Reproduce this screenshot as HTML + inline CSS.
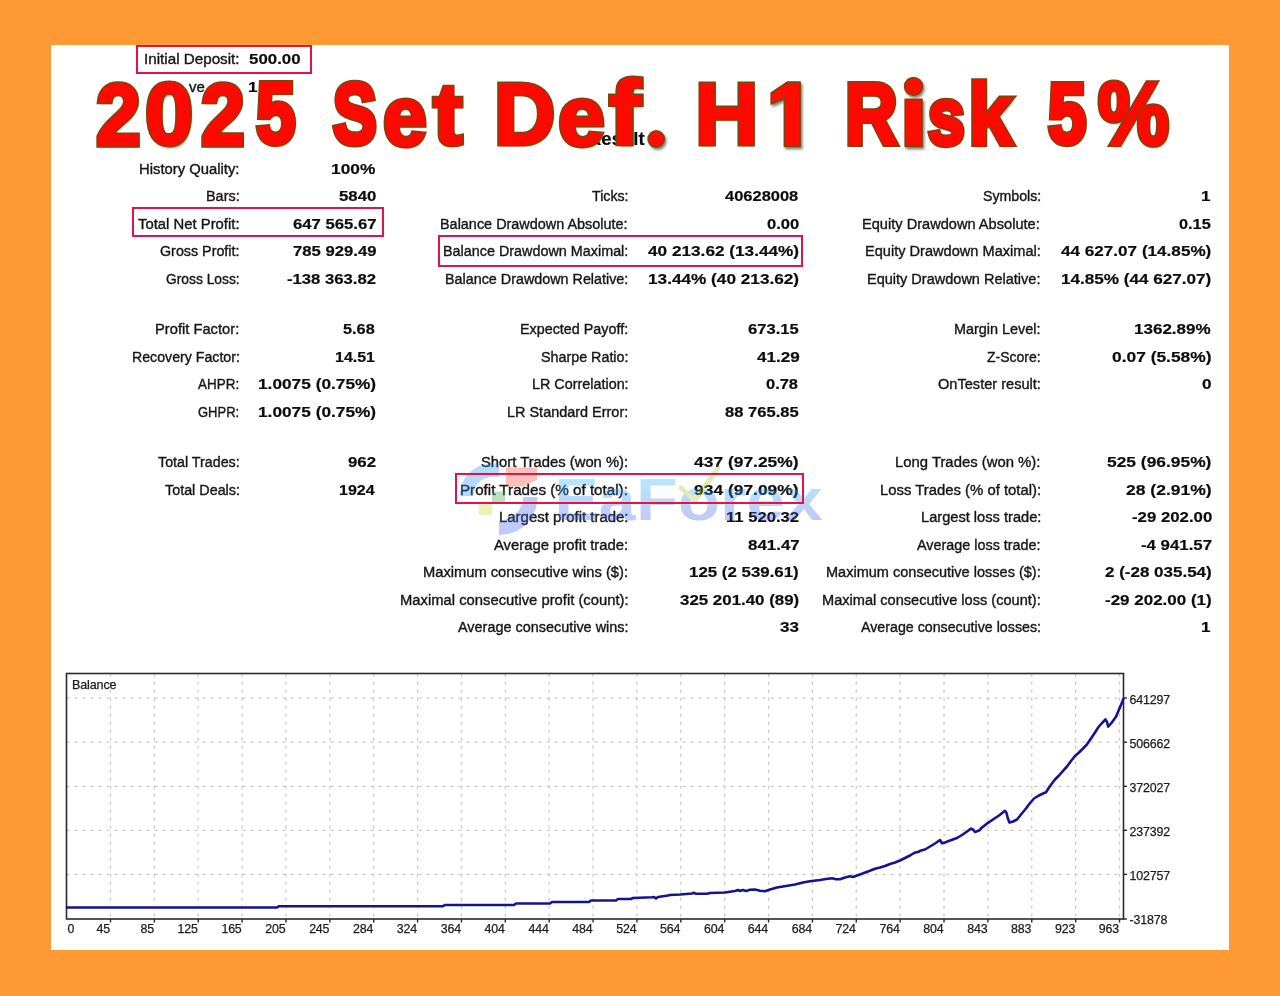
<!DOCTYPE html>
<html><head><meta charset="utf-8"><title>Report</title>
<style>
html,body{margin:0;padding:0}
body{width:1280px;height:996px;background:#ff9933;position:relative;overflow:hidden;font-family:"Liberation Sans",sans-serif}
#panel{position:absolute;left:51px;top:45px;width:1178px;height:905px;background:#fff}
#soft{position:absolute;left:0;top:0;width:1280px;height:996px;filter:blur(0.35px)}
.t{position:absolute;white-space:pre;font-size:15.3px;line-height:20px;color:#141414;transform-origin:0 0;-webkit-text-stroke:0.4px #1c1c1c}
.v{font-weight:bold;color:#0c0c0c;-webkit-text-stroke:0.2px #111}
.rb{position:absolute;box-sizing:border-box;border:2px solid #e4124a}
.ax{position:absolute;white-space:pre;font-size:12.4px;line-height:16px;color:#1a1a1a;letter-spacing:-0.15px;-webkit-text-stroke:0.25px #222}
.g{stroke:#cacaca;stroke-width:1.25;stroke-dasharray:3.2 4.8}
.tk{stroke:#2a2a2a;stroke-width:1.4}
.tw{position:absolute;white-space:pre;font-weight:bold;transform-origin:0 0;font-size:88.0px;line-height:106px}
.ta{color:#7a4608;-webkit-text-stroke:4.8px #7a4608;text-shadow:1.6px 2.2px 2.6px rgba(50,50,30,.6)}
.tb{color:#ff0800;-webkit-text-stroke:1.7px #ff0800}
.dt{position:absolute;border-radius:50%;display:block}
.da{background:#8c4c08;box-shadow:1.5px 2px 3px rgba(70,70,50,.45)}
.db{background:#ff0800}
</style></head><body>
<div id="panel"></div>
<div id="soft">
<!--STATS-->
<span class="t l" style="left:144.01px;top:48.95px;transform:scaleX(0.9944)">Initial Deposit:</span>
<span class="t v" style="left:249.00px;top:48.95px;transform:scaleX(1.1020)">500.00</span>
<span class="t l" style="left:188.90px;top:76.60px;transform:scaleX(0.9777)">ve</span>
<span class="t v" style="left:248.12px;top:76.60px;transform:scaleX(1.1200)">1</span>
<span class="t l" style="left:139.03px;top:158.95px;transform:scaleX(0.9689)">History Quality:</span>
<span class="t v" style="left:330.75px;top:158.95px;transform:scaleX(1.1323)">100%</span>
<span class="t l" style="left:205.81px;top:186.45px;transform:scaleX(0.9431)">Bars:</span>
<span class="t v" style="left:338.75px;top:186.45px;transform:scaleX(1.0963)">5840</span>
<span class="t l" style="left:138.00px;top:213.95px;transform:scaleX(0.9708)">Total Net Profit:</span>
<span class="t v" style="left:292.50px;top:213.95px;transform:scaleX(1.0914)">647 565.67</span>
<span class="t l" style="left:160.00px;top:241.45px;transform:scaleX(0.9349)">Gross Profit:</span>
<span class="t v" style="left:292.50px;top:241.45px;transform:scaleX(1.0914)">785 929.49</span>
<span class="t l" style="left:165.75px;top:268.95px;transform:scaleX(0.9028)">Gross Loss:</span>
<span class="t v" style="left:287.00px;top:268.95px;transform:scaleX(1.0906)">-138 363.82</span>
<span class="t l" style="left:155.29px;top:319.45px;transform:scaleX(0.9619)">Profit Factor:</span>
<span class="t v" style="left:343.25px;top:319.45px;transform:scaleX(1.0656)">5.68</span>
<span class="t l" style="left:131.57px;top:346.95px;transform:scaleX(0.9264)">Recovery Factor:</span>
<span class="t v" style="left:335.00px;top:346.95px;transform:scaleX(1.0446)">14.51</span>
<span class="t l" style="left:198.25px;top:374.45px;transform:scaleX(0.8802)">AHPR:</span>
<span class="t v" style="left:257.50px;top:374.45px;transform:scaleX(1.1291)">1.0075 (0.75%)</span>
<span class="t l" style="left:198.25px;top:401.95px;transform:scaleX(0.8486)">GHPR:</span>
<span class="t v" style="left:257.50px;top:401.95px;transform:scaleX(1.1291)">1.0075 (0.75%)</span>
<span class="t l" style="left:157.50px;top:452.45px;transform:scaleX(0.9330)">Total Trades:</span>
<span class="t v" style="left:348.00px;top:452.45px;transform:scaleX(1.0993)">962</span>
<span class="t l" style="left:164.50px;top:479.95px;transform:scaleX(0.9381)">Total Deals:</span>
<span class="t v" style="left:339.25px;top:479.95px;transform:scaleX(1.0500)">1924</span>
<span class="t l" style="left:591.80px;top:186.45px;transform:scaleX(0.9286)">Ticks:</span>
<span class="t v" style="left:725.00px;top:186.45px;transform:scaleX(1.0766)">40628008</span>
<span class="t l" style="left:439.96px;top:213.95px;transform:scaleX(0.9429)">Balance Drawdown Absolute:</span>
<span class="t v" style="left:767.10px;top:213.95px;transform:scaleX(1.0832)">0.00</span>
<span class="t l" style="left:443.06px;top:241.45px;transform:scaleX(0.9395)">Balance Drawdown Maximal:</span>
<span class="t v" style="left:647.80px;top:241.45px;transform:scaleX(1.1245)">40 213.62 (13.44%)</span>
<span class="t l" style="left:445.06px;top:268.95px;transform:scaleX(0.9374)">Balance Drawdown Relative:</span>
<span class="t v" style="left:647.80px;top:268.95px;transform:scaleX(1.1245)">13.44% (40 213.62)</span>
<span class="t l" style="left:520.26px;top:319.45px;transform:scaleX(0.9371)">Expected Payoff:</span>
<span class="t v" style="left:747.60px;top:319.45px;transform:scaleX(1.0829)">673.15</span>
<span class="t l" style="left:540.90px;top:346.95px;transform:scaleX(0.9351)">Sharpe Ratio:</span>
<span class="t v" style="left:756.50px;top:346.95px;transform:scaleX(1.1199)">41.29</span>
<span class="t l" style="left:531.76px;top:374.45px;transform:scaleX(0.9391)">LR Correlation:</span>
<span class="t v" style="left:766.30px;top:374.45px;transform:scaleX(1.0739)">0.78</span>
<span class="t l" style="left:507.16px;top:401.95px;transform:scaleX(0.9443)">LR Standard Error:</span>
<span class="t v" style="left:724.60px;top:401.95px;transform:scaleX(1.0825)">88 765.85</span>
<span class="t l" style="left:481.00px;top:452.45px;transform:scaleX(0.9669)">Short Trades (won %):</span>
<span class="t v" style="left:694.30px;top:452.45px;transform:scaleX(1.1390)">437 (97.25%)</span>
<span class="t l" style="left:460.31px;top:479.95px;transform:scaleX(0.9922)">Profit Trades (% of total):</span>
<span class="t v" style="left:694.30px;top:479.95px;transform:scaleX(1.1390)">934 (97.09%)</span>
<span class="t l" style="left:498.92px;top:507.45px;transform:scaleX(0.9763)">Largest profit trade:</span>
<span class="t v" style="left:726.30px;top:507.45px;transform:scaleX(1.0870)">11 520.32</span>
<span class="t l" style="left:494.30px;top:534.95px;transform:scaleX(0.9696)">Average profit trade:</span>
<span class="t v" style="left:747.60px;top:534.95px;transform:scaleX(1.1063)">841.47</span>
<span class="t l" style="left:423.44px;top:562.45px;transform:scaleX(0.9606)">Maximum consecutive wins ($):</span>
<span class="t v" style="left:689.20px;top:562.45px;transform:scaleX(1.1025)">125 (2 539.61)</span>
<span class="t l" style="left:399.83px;top:589.95px;transform:scaleX(0.9671)">Maximal consecutive profit (count):</span>
<span class="t v" style="left:679.70px;top:589.95px;transform:scaleX(1.1036)">325 201.40 (89)</span>
<span class="t l" style="left:457.90px;top:617.45px;transform:scaleX(0.9428)">Average consecutive wins:</span>
<span class="t v" style="left:780.40px;top:617.45px;transform:scaleX(1.1147)">33</span>
<span class="t l" style="left:982.60px;top:186.45px;transform:scaleX(0.9261)">Symbols:</span>
<span class="t v" style="left:1201.12px;top:186.45px;transform:scaleX(1.1200)">1</span>
<span class="t l" style="left:862.35px;top:213.95px;transform:scaleX(0.9545)">Equity Drawdown Absolute:</span>
<span class="t v" style="left:1178.90px;top:213.95px;transform:scaleX(1.0672)">0.15</span>
<span class="t l" style="left:865.05px;top:241.45px;transform:scaleX(0.9532)">Equity Drawdown Maximal:</span>
<span class="t v" style="left:1061.00px;top:241.45px;transform:scaleX(1.1186)">44 627.07 (14.85%)</span>
<span class="t l" style="left:867.45px;top:268.95px;transform:scaleX(0.9488)">Equity Drawdown Relative:</span>
<span class="t v" style="left:1061.00px;top:268.95px;transform:scaleX(1.1186)">14.85% (44 627.07)</span>
<span class="t l" style="left:954.36px;top:319.45px;transform:scaleX(0.9422)">Margin Level:</span>
<span class="t v" style="left:1134.10px;top:319.45px;transform:scaleX(1.1126)">1362.89%</span>
<span class="t l" style="left:987.20px;top:346.95px;transform:scaleX(0.9147)">Z-Score:</span>
<span class="t v" style="left:1111.80px;top:346.95px;transform:scaleX(1.1361)">0.07 (5.58%)</span>
<span class="t l" style="left:938.00px;top:374.45px;transform:scaleX(0.9530)">OnTester result:</span>
<span class="t v" style="left:1202.24px;top:374.45px;transform:scaleX(1.1200)">0</span>
<span class="t l" style="left:895.33px;top:452.45px;transform:scaleX(0.9711)">Long Trades (won %):</span>
<span class="t v" style="left:1106.90px;top:452.45px;transform:scaleX(1.1368)">525 (96.95%)</span>
<span class="t l" style="left:879.53px;top:479.95px;transform:scaleX(0.9718)">Loss Trades (% of total):</span>
<span class="t v" style="left:1125.60px;top:479.95px;transform:scaleX(1.1454)">28 (2.91%)</span>
<span class="t l" style="left:920.54px;top:507.45px;transform:scaleX(0.9564)">Largest loss trade:</span>
<span class="t v" style="left:1131.50px;top:507.45px;transform:scaleX(1.0972)">-29 202.00</span>
<span class="t l" style="left:917.30px;top:534.95px;transform:scaleX(0.9396)">Average loss trade:</span>
<span class="t v" style="left:1140.70px;top:534.95px;transform:scaleX(1.0993)">-4 941.57</span>
<span class="t l" style="left:826.15px;top:562.45px;transform:scaleX(0.9496)">Maximum consecutive losses ($):</span>
<span class="t v" style="left:1104.60px;top:562.45px;transform:scaleX(1.1105)">2 (-28 035.54)</span>
<span class="t l" style="left:822.15px;top:589.95px;transform:scaleX(0.9530)">Maximal consecutive loss (count):</span>
<span class="t v" style="left:1104.60px;top:589.95px;transform:scaleX(1.1105)">-29 202.00 (1)</span>
<span class="t l" style="left:860.90px;top:617.45px;transform:scaleX(0.9296)">Average consecutive losses:</span>
<span class="t v" style="left:1201.12px;top:617.45px;transform:scaleX(1.1200)">1</span>
<span class="t v" id="res" style="left:588px;top:126.3px;font-size:18.5px;line-height:26px">Result<span style="opacity:0">s</span></span>
<!--WATERMARK-->
<svg width="1280" height="996" viewBox="0 0 1280 996" style="position:absolute;left:0;top:0">
<defs><linearGradient id="wg" gradientUnits="userSpaceOnUse" x1="0" x2="0" y1="476" y2="521"><stop offset="0" stop-color="#1fc4f2"/><stop offset="0.5" stop-color="#2f8cf0"/><stop offset="1" stop-color="#4a58e4"/></linearGradient></defs>
<g opacity="0.33">
<path d="M460,496 C460,477.5 474,463.5 492,463.5 L499,463.5 L499,477 L492,477 C481.5,477 473.5,485.5 473.5,496 Z" fill="#2a90ee"/>
<path d="M537.5,497 C537.5,518.5 520.5,535 499,535 L499,520.5 C512,520.5 523,510 523,497 Z" fill="#3b62e6"/>
<path d="M506,467.5 L537,467.5 L537,480 L523,486.5 L506,486.5 Z" fill="#f0402c"/>
<rect x="492" y="491.5" width="13" height="11.5" fill="#36a23c"/>
<rect x="478.6" y="503" width="13.4" height="12" fill="#c4d41c"/>
<text x="554.5" y="519.5" font-family="Liberation Sans, sans-serif" font-weight="bold" font-size="59" fill="url(#wg)" textLength="81" lengthAdjust="spacingAndGlyphs">Ea</text>
<text x="636" y="519.5" font-family="Liberation Sans, sans-serif" font-weight="bold" font-size="59" fill="url(#wg)" textLength="187" lengthAdjust="spacingAndGlyphs">Forex</text>
<path d="M681,488 L695,500.5 L718,468" fill="none" stroke="#a8c424" stroke-width="5" stroke-linecap="round" stroke-linejoin="round"/>
</g>
</svg>

<!--CHART-->
<svg id="chart" width="1280" height="996" viewBox="0 0 1280 996" style="position:absolute;left:0;top:0">
<line x1="110.50" y1="673.5" x2="110.50" y2="919.0" class="g"/>
<line x1="110.50" y1="919.0" x2="110.50" y2="922.5" class="tk"/>
<line x1="154.37" y1="673.5" x2="154.37" y2="919.0" class="g"/>
<line x1="154.37" y1="919.0" x2="154.37" y2="922.5" class="tk"/>
<line x1="198.24" y1="673.5" x2="198.24" y2="919.0" class="g"/>
<line x1="198.24" y1="919.0" x2="198.24" y2="922.5" class="tk"/>
<line x1="242.11" y1="673.5" x2="242.11" y2="919.0" class="g"/>
<line x1="242.11" y1="919.0" x2="242.11" y2="922.5" class="tk"/>
<line x1="285.98" y1="673.5" x2="285.98" y2="919.0" class="g"/>
<line x1="285.98" y1="919.0" x2="285.98" y2="922.5" class="tk"/>
<line x1="329.85" y1="673.5" x2="329.85" y2="919.0" class="g"/>
<line x1="329.85" y1="919.0" x2="329.85" y2="922.5" class="tk"/>
<line x1="373.72" y1="673.5" x2="373.72" y2="919.0" class="g"/>
<line x1="373.72" y1="919.0" x2="373.72" y2="922.5" class="tk"/>
<line x1="417.59" y1="673.5" x2="417.59" y2="919.0" class="g"/>
<line x1="417.59" y1="919.0" x2="417.59" y2="922.5" class="tk"/>
<line x1="461.46" y1="673.5" x2="461.46" y2="919.0" class="g"/>
<line x1="461.46" y1="919.0" x2="461.46" y2="922.5" class="tk"/>
<line x1="505.33" y1="673.5" x2="505.33" y2="919.0" class="g"/>
<line x1="505.33" y1="919.0" x2="505.33" y2="922.5" class="tk"/>
<line x1="549.20" y1="673.5" x2="549.20" y2="919.0" class="g"/>
<line x1="549.20" y1="919.0" x2="549.20" y2="922.5" class="tk"/>
<line x1="593.07" y1="673.5" x2="593.07" y2="919.0" class="g"/>
<line x1="593.07" y1="919.0" x2="593.07" y2="922.5" class="tk"/>
<line x1="636.94" y1="673.5" x2="636.94" y2="919.0" class="g"/>
<line x1="636.94" y1="919.0" x2="636.94" y2="922.5" class="tk"/>
<line x1="680.81" y1="673.5" x2="680.81" y2="919.0" class="g"/>
<line x1="680.81" y1="919.0" x2="680.81" y2="922.5" class="tk"/>
<line x1="724.68" y1="673.5" x2="724.68" y2="919.0" class="g"/>
<line x1="724.68" y1="919.0" x2="724.68" y2="922.5" class="tk"/>
<line x1="768.55" y1="673.5" x2="768.55" y2="919.0" class="g"/>
<line x1="768.55" y1="919.0" x2="768.55" y2="922.5" class="tk"/>
<line x1="812.42" y1="673.5" x2="812.42" y2="919.0" class="g"/>
<line x1="812.42" y1="919.0" x2="812.42" y2="922.5" class="tk"/>
<line x1="856.29" y1="673.5" x2="856.29" y2="919.0" class="g"/>
<line x1="856.29" y1="919.0" x2="856.29" y2="922.5" class="tk"/>
<line x1="900.16" y1="673.5" x2="900.16" y2="919.0" class="g"/>
<line x1="900.16" y1="919.0" x2="900.16" y2="922.5" class="tk"/>
<line x1="944.03" y1="673.5" x2="944.03" y2="919.0" class="g"/>
<line x1="944.03" y1="919.0" x2="944.03" y2="922.5" class="tk"/>
<line x1="987.90" y1="673.5" x2="987.90" y2="919.0" class="g"/>
<line x1="987.90" y1="919.0" x2="987.90" y2="922.5" class="tk"/>
<line x1="1031.77" y1="673.5" x2="1031.77" y2="919.0" class="g"/>
<line x1="1031.77" y1="919.0" x2="1031.77" y2="922.5" class="tk"/>
<line x1="1075.64" y1="673.5" x2="1075.64" y2="919.0" class="g"/>
<line x1="1075.64" y1="919.0" x2="1075.64" y2="922.5" class="tk"/>
<line x1="1119.51" y1="673.5" x2="1119.51" y2="919.0" class="g"/>
<line x1="1119.51" y1="919.0" x2="1119.51" y2="922.5" class="tk"/>
<line x1="66.5" y1="698.0" x2="1123.5" y2="698.0" class="g"/>
<line x1="1123.5" y1="698.0" x2="1127.0" y2="698.0" class="tk"/>
<line x1="66.5" y1="742.2" x2="1123.5" y2="742.2" class="g"/>
<line x1="1123.5" y1="742.2" x2="1127.0" y2="742.2" class="tk"/>
<line x1="66.5" y1="786.3" x2="1123.5" y2="786.3" class="g"/>
<line x1="1123.5" y1="786.3" x2="1127.0" y2="786.3" class="tk"/>
<line x1="66.5" y1="830.3" x2="1123.5" y2="830.3" class="g"/>
<line x1="1123.5" y1="830.3" x2="1127.0" y2="830.3" class="tk"/>
<line x1="66.5" y1="874.4" x2="1123.5" y2="874.4" class="g"/>
<line x1="1123.5" y1="874.4" x2="1127.0" y2="874.4" class="tk"/>
<line x1="1123.5" y1="919.0" x2="1127.0" y2="919.0" class="tk"/>
<rect x="66.5" y="673.5" width="1057.0" height="245.5" fill="none" stroke="#2a2a2a" stroke-width="1.6"/>
<path d="M67.0,907.5 L277.0,907.5 L279.0,906.2 L443.0,906.2 L445.0,905.0 L514.0,905.0 L516.0,903.5 L550.0,903.5 L552.0,902.0 L589.0,902.0 L591.0,900.5 L616.0,900.5 L618.0,899.0 L631.0,899.0 L633.0,898.0 L652.0,897.3 L654.0,897.0 L656.0,898.6 L658.0,897.0 L668.0,895.5 L670.0,895.0 L680.0,894.5 L692.0,893.5 L694.0,892.8 L696.0,893.8 L707.0,893.8 L710.0,893.0 L725.0,892.5 L735.0,891.0 L738.0,890.0 L740.0,891.0 L743.0,890.0 L746.0,891.0 L750.0,889.8 L755.0,889.5 L760.0,890.8 L765.0,891.2 L770.0,889.5 L777.0,887.5 L786.0,886.0 L795.0,884.5 L803.0,882.5 L810.0,881.3 L820.0,880.0 L826.0,879.0 L832.0,878.2 L836.0,879.3 L840.0,879.3 L845.0,877.5 L850.0,876.3 L853.0,877.0 L857.0,875.5 L862.0,873.8 L868.0,871.5 L875.0,868.8 L880.0,867.5 L885.0,866.0 L890.0,864.0 L895.0,862.5 L900.0,860.5 L905.0,858.0 L910.0,855.5 L915.0,852.5 L918.0,852.0 L921.0,850.5 L925.0,849.5 L930.0,846.5 L935.0,843.5 L940.0,840.0 L942.0,843.3 L945.0,842.5 L950.0,840.5 L957.0,838.0 L962.0,835.0 L967.0,831.5 L971.0,828.6 L973.0,829.5 L975.0,832.0 L979.0,830.6 L982.0,827.5 L988.0,822.8 L993.0,819.5 L999.0,815.5 L1005.0,810.8 L1006.5,813.0 L1008.0,819.0 L1009.5,822.6 L1013.0,821.5 L1017.0,819.5 L1021.0,814.5 L1026.0,808.5 L1030.0,803.0 L1034.0,798.5 L1038.0,796.0 L1042.0,794.0 L1046.0,792.3 L1050.0,786.0 L1055.0,779.5 L1059.0,775.5 L1063.0,770.8 L1067.0,766.5 L1071.0,761.0 L1075.0,756.0 L1079.0,752.5 L1083.0,748.5 L1087.0,744.3 L1091.0,738.5 L1095.0,732.5 L1098.5,727.0 L1102.0,723.0 L1105.5,719.5 L1107.0,722.0 L1108.2,726.6 L1111.0,723.5 L1114.0,719.5 L1116.0,716.8 L1118.0,712.0 L1120.2,706.8 L1122.0,702.5 L1123.3,699.0" fill="none" stroke="#14148f" stroke-width="2.6" stroke-linejoin="round" stroke-linecap="round"/>
</svg>
<span class="ax" style="right:1170.00px;top:921.0px">45</span>
<span class="ax" style="right:1126.13px;top:921.0px">85</span>
<span class="ax" style="right:1082.26px;top:921.0px">125</span>
<span class="ax" style="right:1038.39px;top:921.0px">165</span>
<span class="ax" style="right:994.52px;top:921.0px">205</span>
<span class="ax" style="right:950.65px;top:921.0px">245</span>
<span class="ax" style="right:906.78px;top:921.0px">284</span>
<span class="ax" style="right:862.91px;top:921.0px">324</span>
<span class="ax" style="right:819.04px;top:921.0px">364</span>
<span class="ax" style="right:775.17px;top:921.0px">404</span>
<span class="ax" style="right:731.30px;top:921.0px">444</span>
<span class="ax" style="right:687.43px;top:921.0px">484</span>
<span class="ax" style="right:643.56px;top:921.0px">524</span>
<span class="ax" style="right:599.69px;top:921.0px">564</span>
<span class="ax" style="right:555.82px;top:921.0px">604</span>
<span class="ax" style="right:511.95px;top:921.0px">644</span>
<span class="ax" style="right:468.08px;top:921.0px">684</span>
<span class="ax" style="right:424.21px;top:921.0px">724</span>
<span class="ax" style="right:380.34px;top:921.0px">764</span>
<span class="ax" style="right:336.47px;top:921.0px">804</span>
<span class="ax" style="right:292.60px;top:921.0px">843</span>
<span class="ax" style="right:248.73px;top:921.0px">883</span>
<span class="ax" style="right:204.86px;top:921.0px">923</span>
<span class="ax" style="right:160.99px;top:921.0px">963</span>
<span class="ax" style="left:67.5px;top:921.0px">0</span>
<span class="ax" style="left:1129.5px;top:692.0px">641297</span>
<span class="ax" style="left:1129.5px;top:736.2px">506662</span>
<span class="ax" style="left:1129.5px;top:780.3px">372027</span>
<span class="ax" style="left:1129.5px;top:824.3px">237392</span>
<span class="ax" style="left:1129.5px;top:868.4px">102757</span>
<span class="ax" style="left:1129.5px;top:911.6px">-31878</span>
<span class="ax" style="left:72px;top:677px;font-size:12.6px">Balance</span>
<!--BOXES-->

<div class="rb" style="left:136.4px;top:44.6px;width:175.4px;height:29.4px"></div>
<div class="rb" style="left:132px;top:207px;width:252.4px;height:30px"></div>
<div class="rb" style="left:438.1px;top:234.8px;width:364.7px;height:32.2px"></div>
<div class="rb" style="left:454.8px;top:473.4px;width:349.2px;height:31px"></div>

<!--TITLE-->
<!--T0-->
<span class="tw ta" style="left:95.90px;top:61.56px;transform:scale(0.9122,0.9970);-webkit-text-stroke-width:5.37px">2</span>
<span class="tw ta" style="left:145.27px;top:61.64px;transform:scale(0.9840,0.9926);-webkit-text-stroke-width:4.93px">0</span>
<span class="tw ta" style="left:201.25px;top:61.56px;transform:scale(0.8929,0.9970);-webkit-text-stroke-width:5.55px">2</span>
<span class="tw ta" style="left:255.81px;top:61.68px;transform:scale(0.8088,0.9809);-webkit-text-stroke-width:6.26px">5</span>
<span class="tw ta" style="left:332.74px;top:62.01px;transform:scale(0.7434,0.9771);-webkit-text-stroke-width:6.97px">S</span>
<span class="tw ta" style="left:382.80px;top:65.67px;transform:scale(0.8939,0.9463);-webkit-text-stroke-width:5.54px">e</span>
<span class="tw ta" style="left:432.62px;top:62.80px;transform:scale(1.0121,0.9794);-webkit-text-stroke-width:4.80px">t</span>
<span class="tw ta" style="left:494.01px;top:61.30px;transform:scale(0.9633,1.0000);-webkit-text-stroke-width:5.10px">D</span>
<span class="tw ta" style="left:557.79px;top:65.67px;transform:scale(0.9573,0.9463);-webkit-text-stroke-width:5.15px">e</span>
<span class="tw ta" style="left:608.89px;top:58.81px;transform:scale(1.0894,1.0290);-webkit-text-stroke-width:4.80px">f</span>
<span class="tw ta" style="left:695.31px;top:61.30px;transform:scale(0.9983,1.0000);-webkit-text-stroke-width:4.81px">H</span>
<span class="tw ta" style="left:844.94px;top:61.30px;transform:scale(0.8277,1.0000);-webkit-text-stroke-width:6.13px">R</span>
<span class="tw ta" style="left:927.75px;top:68.64px;transform:scale(0.7500,0.9018);-webkit-text-stroke-width:6.97px">s</span>
<span class="tw ta" style="left:967.54px;top:61.92px;transform:scale(0.9196,0.9928);-webkit-text-stroke-width:5.31px">k</span>
<span class="tw ta" style="left:1048.38px;top:62.93px;transform:scale(0.7824,0.9667);-webkit-text-stroke-width:6.57px">5</span>
<span class="tw ta" style="left:1097.81px;top:60.92px;transform:scale(0.9075,1.0044);-webkit-text-stroke-width:5.59px">%</span>
<span class="tw tb" style="left:95.90px;top:61.56px;transform:scale(0.9122,0.9970);-webkit-text-stroke-width:2.27px">2</span>
<span class="tw tb" style="left:145.27px;top:61.64px;transform:scale(0.9840,0.9926);-webkit-text-stroke-width:1.83px">0</span>
<span class="tw tb" style="left:201.25px;top:61.56px;transform:scale(0.8929,0.9970);-webkit-text-stroke-width:2.45px">2</span>
<span class="tw tb" style="left:255.81px;top:61.68px;transform:scale(0.8088,0.9809);-webkit-text-stroke-width:3.16px">5</span>
<span class="tw tb" style="left:332.74px;top:62.01px;transform:scale(0.7434,0.9771);-webkit-text-stroke-width:3.87px">S</span>
<span class="tw tb" style="left:382.80px;top:65.67px;transform:scale(0.8939,0.9463);-webkit-text-stroke-width:2.44px">e</span>
<span class="tw tb" style="left:432.62px;top:62.80px;transform:scale(1.0121,0.9794);-webkit-text-stroke-width:1.70px">t</span>
<span class="tw tb" style="left:494.01px;top:61.30px;transform:scale(0.9633,1.0000);-webkit-text-stroke-width:2.00px">D</span>
<span class="tw tb" style="left:557.79px;top:65.67px;transform:scale(0.9573,0.9463);-webkit-text-stroke-width:2.05px">e</span>
<span class="tw tb" style="left:608.89px;top:58.81px;transform:scale(1.0894,1.0290);-webkit-text-stroke-width:1.70px">f</span>
<span class="tw tb" style="left:695.31px;top:61.30px;transform:scale(0.9983,1.0000);-webkit-text-stroke-width:1.71px">H</span>
<span class="tw tb" style="left:844.94px;top:61.30px;transform:scale(0.8277,1.0000);-webkit-text-stroke-width:3.03px">R</span>
<span class="tw tb" style="left:927.75px;top:68.64px;transform:scale(0.7500,0.9018);-webkit-text-stroke-width:3.87px">s</span>
<span class="tw tb" style="left:967.54px;top:61.92px;transform:scale(0.9196,0.9928);-webkit-text-stroke-width:2.21px">k</span>
<span class="tw tb" style="left:1048.38px;top:62.93px;transform:scale(0.7824,0.9667);-webkit-text-stroke-width:3.47px">5</span>
<span class="tw tb" style="left:1097.81px;top:60.92px;transform:scale(0.9075,1.0044);-webkit-text-stroke-width:2.49px">%</span>
<svg width="1280" height="996" viewBox="0 0 1280 996" style="position:absolute;left:0;top:0;overflow:visible">
<defs><filter id="ts" x="-20%" y="-20%" width="150%" height="150%"><feDropShadow dx="1.6" dy="2.2" stdDeviation="1.3" flood-color="#32321e" flood-opacity="0.6"/></filter></defs>
<g fill="#ff0800" stroke="#7a4608" stroke-width="1.6" stroke-linejoin="round" filter="url(#ts)">
<path d="M800.1,82.1 L787.2,82.1 L771.2,93 L771.2,104 L784.4,98.6 L784.4,146.5 L800.1,146.5 Z"/>
<rect x="905.2" y="99.4" width="16.8" height="47.1"/>
<circle cx="913.5" cy="86.4" r="8.9"/>
<circle cx="656.2" cy="139" r="8.1"/>
</g></svg>
<!--T1-->
</div>
</body></html>
